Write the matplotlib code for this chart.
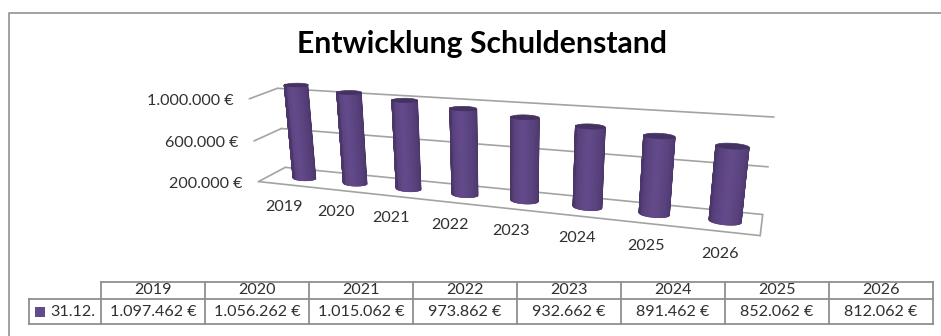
import numpy as np
import matplotlib
matplotlib.use('Agg')
import matplotlib.pyplot as plt
from matplotlib.collections import PolyCollection
from matplotlib.patches import Rectangle, Polygon

years = ['2019', '2020', '2021', '2022', '2023', '2024', '2025', '2026']
schulden = [1097462, 1056262, 1015062, 973862, 932662, 891462, 852062, 812062]
y_ticks = [200000, 600000, 1000000]
legend_name = '31.12.'
title = 'Entwicklung Schuldenstand'

plt.rcParams['font.family'] = ['Lato', 'DejaVu Sans']
W, H = 941, 336
GRID = '#a3a3a3'
TEXT = '#303030'
FS = 11.6

fig = plt.figure(figsize=(W / 100, H / 100), dpi=100)
ax = fig.add_axes([0, 0, 1, 1])
ax.set_xlim(0, W)
ax.set_ylim(H, 0)
ax.axis('off')


def euro(v):
    return f'{v:,}'.replace(',', '.') + ' €'


# camera for the 3d box, fitted from where its edges should land
# box coords: t along the years, d depth (0 back, 1 front), z value
box = [(0, 0, 2e5, 285, 167), (1, 0, 2e5, 763, 214), (0, 1, 2e5, 259, 182), (1, 1, 2e5, 760, 236),
       (0, 0, 1e6, 278, 89), (1, 0, 1e6, 774, 117), (0, 1, 1e6, 249, 98),
       (0, 0, 6e5, 281, 128.5), (1, 0, 6e5, 768, 167), (0, 1, 6e5, 254, 141)]
rows = []
for t, d, z, px, py in box:
    X = [t, d, z / 1e6, 1]
    rows.append(X + [0, 0, 0, 0] + [-px * a for a in X])
    rows.append([0, 0, 0, 0] + X + [-py * a for a in X])
cam = np.linalg.svd(np.array(rows))[2][-1].reshape(3, 4)


def proj(t, d, z):
    t, d, z = np.broadcast_arrays(t, d, z)
    p = cam @ np.array([t, d, z / 1e6, np.ones(t.shape)])
    return p[0] / p[2], p[1] / p[2]


def line3d(a, b, **kw):
    xa, ya = proj(*a)
    xb, yb = proj(*b)
    ax.plot([xa, xb], [ya, yb], color=GRID, lw=1.2, solid_capstyle='round', zorder=2, **kw)


# walls and floor
for v in y_ticks:
    line3d((0, 1, v), (0, 0, v))
    line3d((0, 0, v), (1, 0, v))
    x, y = proj(0, 1, v)
    ax.text(x - 16, y + 2, euro(v), ha='right', va='center', fontsize=FS, color=TEXT)
line3d((0, 1, y_ticks[0]), (1, 1, y_ticks[0]))
line3d((1, 1, y_ticks[0]), (1, 0, y_ticks[0]))

# cylinders
body = np.array([0x3a, 0x2a, 0x55]) / 255
mid = np.array([0x64, 0x4a, 0x8b]) / 255
n = len(years)
t_pos = 0.021 + 0.98 * (np.arange(n) + 0.5) / n
t_lab = 0.0017 + 0.9966 * (np.arange(n) + 0.5) / n
rt, rd = 0.0265, 0.17
theta = np.linspace(0, 2 * np.pi, 121)
for i in range(n):
    tt = t_pos[i] + rt * np.cos(theta)
    dd = 0.5 + rd * np.sin(theta)
    xb, yb = proj(tt, dd, y_ticks[0])
    xt, yt = proj(tt, dd, schulden[i])
    polys, cols = [], []
    for k in range(60):
        polys.append([(xb[k], yb[k]), (xb[k + 1], yb[k + 1]), (xt[k + 1], yt[k + 1]), (xt[k], yt[k])])
        u = 1 - k / 59
        s = np.clip(1 - abs(u - 0.5) / 0.62, 0, 1) ** 0.6
        cols.append(body + (mid - body) * s)
    ax.add_collection(PolyCollection(polys, facecolors=cols, edgecolors=cols, linewidths=1.0, zorder=3))
    ax.add_patch(Polygon(np.c_[xt, yt], closed=True, fc='#443262', ec='#443262', lw=0.5, zorder=4))
    x, y = proj(t_lab[i], 1, y_ticks[0])
    ax.text(x, y + 22.5, years[i], ha='center', va='center', fontsize=FS, color=TEXT)

ax.text(482, 43.5, title, ha='center', va='center', fontsize=21.7, fontweight='bold', color='black')

# chart frame (open on the right and bottom)
ax.plot([9.5, 9.5, W], [H, 12.5, 12.5], color='#9a9a9a', lw=1.3, zorder=1)

# data table below the chart
left, cw, top, mid_y, bottom, leg_left = 101, 104, 281.5, 299, 324, 29
TLINE = '#8f8f8f'
for k in range(n + 1):
    ax.plot([left + k * cw] * 2, [top, bottom], color=TLINE, lw=1.3, zorder=2)
ax.plot([left, left + n * cw], [top, top], color=TLINE, lw=1.3, zorder=2)
ax.plot([leg_left, left + n * cw], [mid_y, mid_y], color=TLINE, lw=1.3, zorder=2)
ax.plot([leg_left, left + n * cw], [bottom, bottom], color=TLINE, lw=1.3, zorder=2)
ax.plot([leg_left, leg_left], [mid_y, bottom], color=TLINE, lw=1.3, zorder=2)
for k in range(n):
    cx = left + (k + 0.5) * cw
    ax.text(cx, (top + mid_y) / 2, years[k], ha='center', va='center', fontsize=FS, color=TEXT)
    ax.text(cx, (mid_y + bottom) / 2, euro(schulden[k]), ha='center', va='center', fontsize=FS, color=TEXT)
ax.add_patch(Rectangle((35, 307), 10, 10, fc='#5f4a8b', ec='none', zorder=3))
ax.text(50, (mid_y + bottom) / 2, legend_name, ha='left', va='center', fontsize=FS, color=TEXT)

fig.savefig('out.png', dpi=100)
